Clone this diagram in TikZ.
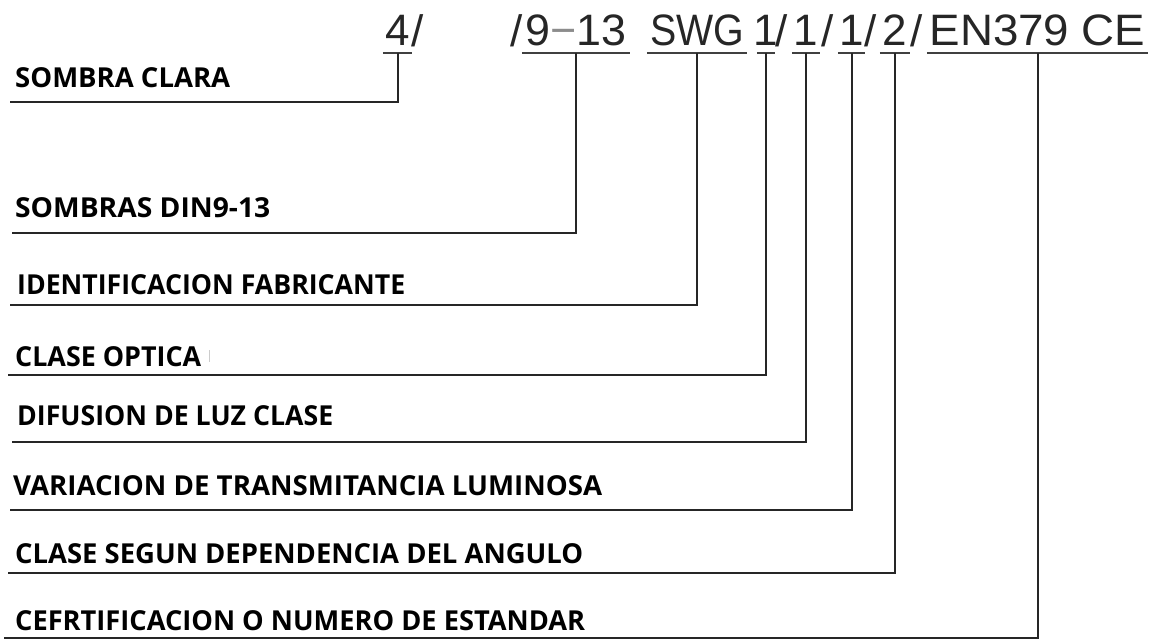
\documentclass[tikz,border=0pt]{standalone}
\usepackage{fontspec}
\usepackage{graphicx}
\newfontfamily\codefont{Liberation Sans}
\newfontfamily\labfont{Open Sans}
\newcommand\fitw[2]{\resizebox{#1}{\height}{#2}}
\newcommand\ulbox[2]{\makebox[#1]{#2}}
\begin{document}
\begin{tikzpicture}[x=1pt,y=-1pt,
  code/.style={font=\codefont\fontsize{44}{44}\selectfont, text=black!85, inner sep=0pt},
  tok/.style={code, anchor=south, inner xsep=0pt, inner ysep=7pt},
  slash/.style={code, anchor=base},
  lab/.style={font=\labfont\bfseries\fontsize{27.5}{27.5}\selectfont, text=black, anchor=base west, inner sep=0pt},
  uline/.style={line width=1.5pt, draw=black!75},
  lead/.style={line width=2pt, draw=black!85}]
\useasboundingbox (0,0) rectangle (1158,640);
% top code
\node[tok] (t4)   at (397.5,53) {\ulbox{29pt}{4}};
\node[slash] (s1) at (418,46) {/};
\node[slash] (s2) at (517,46) {/};
\node[tok] (t913) at (576,53) {\ulbox{108pt}{\fitw{101pt}{9\textcolor{black!45}{−}13}}};
\node[tok] (tswg) at (697,53) {\ulbox{100pt}{\fitw{94pt}{SWG}}};
\node[tok] (t1a)  at (766,53) {\ulbox{18pt}{1}};
\node[slash] (s3) at (782,46) {/};
\node[tok] (t1b)  at (806,53) {\ulbox{28pt}{1}};
\node[slash] (s4) at (828,46) {/};
\node[tok] (t1c)  at (851.5,53) {\ulbox{27pt}{1}};
\node[slash] (s5) at (871,46) {/};
\node[tok] (t2)   at (895,53) {\ulbox{30pt}{2}};
\node[slash] (s6) at (917,46) {/};
\node[tok] (ten)  at (1037.5,53) {\ulbox{221pt}{\fitw{216pt}{EN379 CE}}};
\foreach \t in {t4,t913,tswg,t1a,t1b,t1c,t2,ten}
  \draw[uline] (\t.south west) -- (\t.south east);
% labels
\node[lab] (l1) at (15,87)  {\fitw{215pt}{SOMBRA CLARA}};
\node[lab] (l2) at (15,217) {\fitw{255pt}{SOMBRAS DIN9-13}};
\node[lab] (l3) at (17,294) {\fitw{388pt}{IDENTIFICACION FABRICANTE}};
\node[lab] (l4) at (15,366) {\fitw{186pt}{CLASE OPTICA}};
\node[lab] (l5) at (17,425) {\fitw{316pt}{DIFUSION DE LUZ CLASE}};
\node[lab] (l6) at (13,495) {\fitw{589pt}{VARIACION DE TRANSMITANCIA LUMINOSA}};
\node[lab] (l7) at (15,563) {\fitw{568pt}{CLASE SEGUN DEPENDENCIA DEL ANGULO}};
\node[lab] (l8) at (15,630) {\fitw{570pt}{CEFRTIFICACION O NUMERO DE ESTANDAR}};
\draw[black!20, line width=0.7pt] (209,350) -- (209,362);
% leader ends
\coordinate (e1) at (10,102);
\coordinate (e2) at (12,233);
\coordinate (e3) at (10,305);
\coordinate (e4) at (8,375);
\coordinate (e5) at (12,442);
\coordinate (e6) at (10,510);
\coordinate (e7) at (8,573);
\coordinate (e8) at (4,638);
\draw[lead] (t4.south)   |- (e1);
\draw[lead] (t913.south) |- (e2);
\draw[lead] (tswg.south) |- (e3);
\draw[lead] (t1a.south)  |- (e4);
\draw[lead] (t1b.south)  |- (e5);
\draw[lead] (t1c.south)  |- (e6);
\draw[lead] (t2.south)   |- (e7);
\draw[lead] (ten.south)  |- (e8);
\end{tikzpicture}
\end{document}
